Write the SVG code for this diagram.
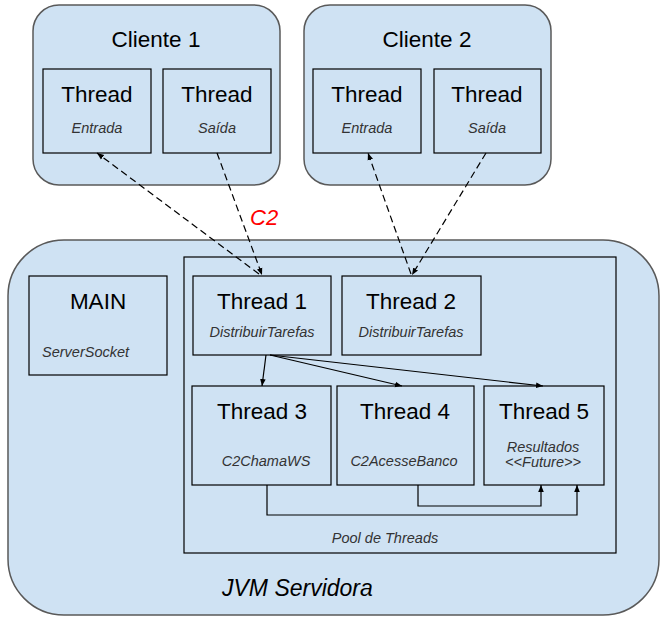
<svg xmlns="http://www.w3.org/2000/svg" width="668" height="621" viewBox="0 0 668 621">
  <defs>
    <marker id="arrow" viewBox="0 0 10 10" refX="10" refY="5" markerWidth="7" markerHeight="7" markerUnits="userSpaceOnUse" orient="auto">
      <path d="M0,1 L10,5 L0,9 Z" fill="#000"/>
    </marker>
    <style>
      .outer { fill: #cfe2f3; stroke: #595959; stroke-width: 1.5; }
      .box { fill: #cfe2f3; stroke: #000; stroke-width: 1.2; }
      .pool { fill: none; stroke: #000; stroke-width: 1.2; }
      .title { font-family: "Liberation Sans", Arial, sans-serif; font-size: 22.5px; fill: #000; text-anchor: middle; }
      .sub { font-family: "Liberation Sans", Arial, sans-serif; font-size: 14.5px; font-style: italic; fill: #333; text-anchor: middle; }
      .sub.left { text-anchor: start; }
      .dash { fill: none; stroke: #000; stroke-width: 1.2; stroke-dasharray: 7,4; }
      .solid { fill: none; stroke: #000; stroke-width: 1.2; }
    </style>
  </defs>

  <!-- client JVMs -->
  <g id="cliente1">
    <rect class="outer" x="33" y="5" width="247" height="180" rx="26"/>
    <text class="title" x="156" y="47">Cliente 1</text>
  </g>
  <g id="c1-entrada">
    <rect class="box" x="43" y="69" width="108" height="84"/>
    <text class="title" x="97" y="102">Thread</text>
    <text class="sub" x="97" y="133">Entrada</text>
  </g>
  <g id="c1-saida">
    <rect class="box" x="163" y="69" width="108" height="84"/>
    <text class="title" x="217" y="102">Thread</text>
    <text class="sub" x="217" y="133">Saída</text>
  </g>

  <g id="cliente2">
    <rect class="outer" x="304" y="5" width="247" height="180" rx="26"/>
    <text class="title" x="427" y="47">Cliente 2</text>
  </g>
  <g id="c2-entrada">
    <rect class="box" x="313" y="69" width="108" height="84"/>
    <text class="title" x="367" y="102">Thread</text>
    <text class="sub" x="367" y="133">Entrada</text>
  </g>
  <g id="c2-saida">
    <rect class="box" x="434" y="69" width="107" height="84"/>
    <text class="title" x="487" y="102">Thread</text>
    <text class="sub" x="487" y="133">Saída</text>
  </g>

  <!-- server JVM -->
  <g id="jvm-servidora">
    <rect class="outer" x="8" y="240" width="651" height="375" rx="56"/>
    <text x="222" y="596" font-family="Liberation Sans, Arial, sans-serif" font-size="23" font-style="italic" fill="#000">JVM Servidora</text>
  </g>
  <g id="pool">
    <rect class="pool" x="184" y="257" width="432" height="296"/>
    <text class="sub" x="385" y="543">Pool de Threads</text>
  </g>
  <g id="main">
    <rect class="box" x="29" y="276" width="138" height="99"/>
    <text class="title" x="98" y="309">MAIN</text>
    <text class="sub left" x="42" y="357">ServerSocket</text>
  </g>
  <g id="thread1">
    <rect class="box" x="193" y="276" width="138" height="79"/>
    <text class="title" x="262" y="309">Thread 1</text>
    <text class="sub" x="262" y="337">DistribuirTarefas</text>
  </g>
  <g id="thread2">
    <rect class="box" x="342" y="276" width="139" height="79"/>
    <text class="title" x="411" y="309">Thread 2</text>
    <text class="sub" x="411" y="337">DistribuirTarefas</text>
  </g>
  <g id="thread3">
    <rect class="box" x="192" y="386" width="139" height="99"/>
    <text class="title" x="262" y="419">Thread 3</text>
    <text class="sub" x="266" y="466">C2ChamaWS</text>
  </g>
  <g id="thread4">
    <rect class="box" x="337" y="386" width="137" height="99"/>
    <text class="title" x="405" y="419">Thread 4</text>
    <text class="sub" x="404" y="466">C2AcesseBanco</text>
  </g>
  <g id="thread5">
    <rect class="box" x="484" y="386" width="120" height="99"/>
    <text class="title" x="544" y="419">Thread 5</text>
    <text class="sub" x="543" y="452">Resultados</text>
    <text class="sub" x="543" y="467">&lt;&lt;Future&gt;&gt;</text>
  </g>

  <!-- connections -->
  <g id="connectors">
    <line class="dash" x1="259" y1="274" x2="97" y2="153" marker-end="url(#arrow)"/>
    <line class="dash" x1="217" y1="153" x2="262" y2="275" marker-end="url(#arrow)"/>
    <line class="dash" x1="411" y1="274" x2="368" y2="153" marker-end="url(#arrow)"/>
    <line class="dash" x1="486" y1="153" x2="412" y2="275" marker-end="url(#arrow)"/>
    <line class="solid" x1="266" y1="355" x2="262" y2="386" marker-end="url(#arrow)"/>
    <line class="solid" x1="270" y1="355" x2="402" y2="386" marker-end="url(#arrow)"/>
    <line class="solid" x1="270" y1="355" x2="543" y2="386" marker-end="url(#arrow)"/>
    <polyline class="solid" points="267,485 267,515 577,515 577,485" marker-end="url(#arrow)"/>
    <polyline class="solid" points="418,485 418,506 541,506 541,485" marker-end="url(#arrow)"/>
    <text x="250" y="225" font-family="Liberation Sans, Arial, sans-serif" font-size="22" font-style="italic" fill="#ff0000">C2</text>
  </g>
</svg>
